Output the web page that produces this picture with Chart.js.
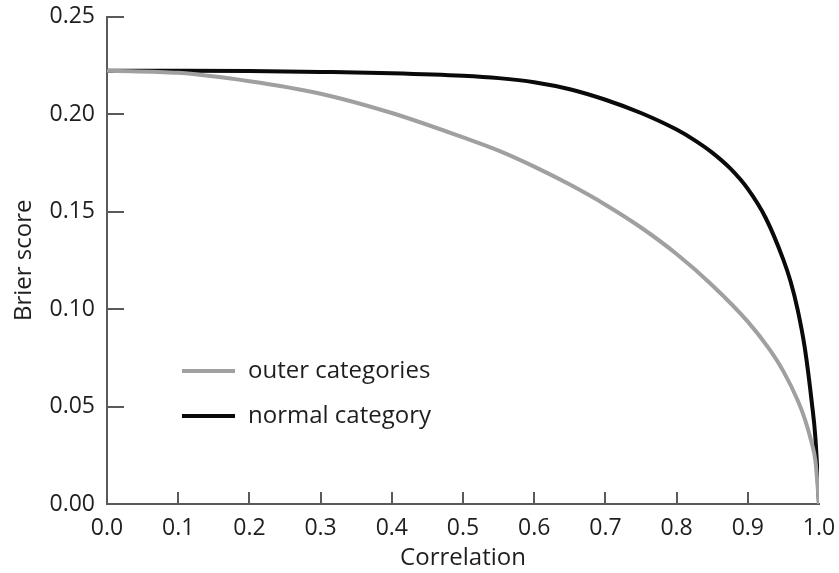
<!DOCTYPE html>
<html>
<head>
<meta charset="utf-8">
<script src="https://cdn.jsdelivr.net/npm/chart.js@4.4.0/dist/chart.umd.min.js"></script>
<style>
html,body{margin:0;padding:0;background:#fff;}
canvas{display:block;}
</style>
</head>
<body>
<canvas id="c" width="839" height="573"></canvas>
<script>
// ---- data ----
const outerCorr  = [0.00, 0.10, 0.20, 0.30, 0.40, 0.50, 0.55, 0.60, 0.65, 0.70, 0.75, 0.80, 0.85, 0.90, 0.93, 0.95, 0.97, 0.98, 0.99, 0.995, 1.00];
const outerBrier = [0.2222, 0.2211, 0.2168, 0.2104, 0.2005, 0.1880, 0.1812, 0.1730, 0.1638, 0.1535, 0.1418, 0.1282, 0.1122, 0.0935, 0.0795, 0.0680, 0.0532, 0.0437, 0.0310, 0.0220, 0.0000];

const normalCorr  = [0.00, 0.10, 0.20, 0.30, 0.40, 0.50, 0.55, 0.60, 0.65, 0.70, 0.75, 0.80, 0.825, 0.85, 0.875, 0.90, 0.925, 0.95, 0.96, 0.97, 0.98, 0.99, 0.995, 1.00];
const normalBrier = [0.2222, 0.2222, 0.2221, 0.2216, 0.2209, 0.2196, 0.2184, 0.2163, 0.2127, 0.2073, 0.2005, 0.1920, 0.1866, 0.1802, 0.1722, 0.1616, 0.1468, 0.1252, 0.1142, 0.0997, 0.0802, 0.0517, 0.0337, 0.0000];

const seriesLabels = ['outer categories', 'normal category'];
const xTickLabels = ['0.0','0.1','0.2','0.3','0.4','0.5','0.6','0.7','0.8','0.9','1.0'];
const yTickLabels = ['0.00','0.05','0.10','0.15','0.20','0.25'];
const xTitle = 'Correlation';
const yTitle = 'Brier score';

const FONT = "'Open Sans', 'Noto Sans', sans-serif";
const FS = 23;
const FS_T = 24;
const AXIS = '#5a5a5a';
const TEXT = '#1e1e1e';

const toPts = (xs, ys) => xs.map((x, i) => ({x: x, y: ys[i]}));

// inward tick marks drawn through the scales
const innerTicks = {
  id: 'innerTicks',
  afterDatasetsDraw(chart) {
    const {ctx, scales: {x, y}} = chart;
    ctx.save();
    ctx.strokeStyle = AXIS;
    ctx.lineWidth = 2;
    ctx.beginPath();
    x.ticks.forEach(t => {
      if (t.value <= 0 || t.value >= 1) return;
      const px = Math.round(x.getPixelForValue(t.value));
      ctx.moveTo(px, y.bottom);
      ctx.lineTo(px, y.bottom - 12);
    });
    y.ticks.forEach(t => {
      if (t.value <= 0) return;
      const py = Math.round(y.getPixelForValue(t.value));
      ctx.moveTo(x.left, py);
      ctx.lineTo(x.left + 17, py);
    });
    ctx.stroke();
    ctx.restore();
  }
};

// in-plot legend
const innerLegend = {
  id: 'innerLegend',
  afterDraw(chart) {
    const {ctx, chartArea} = chart;
    ctx.save();
    ctx.font = FS_T + 'px ' + FONT;
    ctx.textBaseline = 'middle';
    ctx.textAlign = 'left';
    const rows = [371, 416];
    chart.data.datasets.forEach((ds, i) => {
      const yy = rows[i];
      ctx.strokeStyle = ds.borderColor;
      ctx.lineWidth = 4;
      ctx.beginPath();
      ctx.moveTo(chartArea.left + 75, yy);
      ctx.lineTo(chartArea.left + 128, yy);
      ctx.stroke();
      ctx.fillStyle = TEXT;
      ctx.fillText(ds.label, chartArea.left + 141, yy);
    });
    ctx.restore();
  }
};

new Chart(document.getElementById('c'), {
  type: 'line',
  data: {
    datasets: [
      {
        label: seriesLabels[0],
        data: toPts(outerCorr, outerBrier),
        borderColor: '#a0a0a0',
        borderWidth: 4,
        pointRadius: 0,
        cubicInterpolationMode: 'monotone',
        fill: false
      },
      {
        label: seriesLabels[1],
        data: toPts(normalCorr, normalBrier),
        borderColor: '#0a0a0a',
        borderWidth: 4,
        pointRadius: 0,
        cubicInterpolationMode: 'monotone',
        fill: false
      }
    ]
  },
  options: {
    responsive: false,
    animation: false,
    devicePixelRatio: 1,
    layout: { padding: { top: 16.5, right: 20, left: 0, bottom: 0 } },
    plugins: { legend: { display: false }, tooltip: { enabled: false } },
    scales: {
      x: {
        type: 'linear',
        min: 0, max: 1,
        grid: { display: false, drawTicks: false },
        border: { display: true, color: AXIS, width: 2 },
        ticks: {
          stepSize: 0.1,
          padding: 11,
          color: TEXT,
          font: { family: FONT, size: FS },
          maxRotation: 0,
          autoSkip: false,
          callback: (v, i) => xTickLabels[i]
        },
        title: {
          display: true, text: xTitle, color: TEXT,
          font: { family: FONT, size: FS_T },
          padding: { top: 0, bottom: 0 }
        },
        afterFit: s => { s.height = 69; s.paddingLeft = 0; s.paddingRight = 0; }
      },
      y: {
        type: 'linear',
        min: 0, max: 0.25,
        grid: { display: false, drawTicks: false },
        border: { display: true, color: AXIS, width: 2 },
        ticks: {
          stepSize: 0.05,
          padding: 12,
          color: TEXT,
          font: { family: FONT, size: FS },
          autoSkip: false,
          callback: (v, i) => yTickLabels[i]
        },
        title: {
          display: true, text: yTitle, color: TEXT,
          font: { family: FONT, size: FS_T },
          padding: { top: 10, bottom: 0 }
        },
        afterFit: s => { s.width = 107; s.paddingTop = 0; s.paddingBottom = 0; }
      }
    }
  },
  plugins: [innerTicks, innerLegend]
});
</script>
</body>
</html>
